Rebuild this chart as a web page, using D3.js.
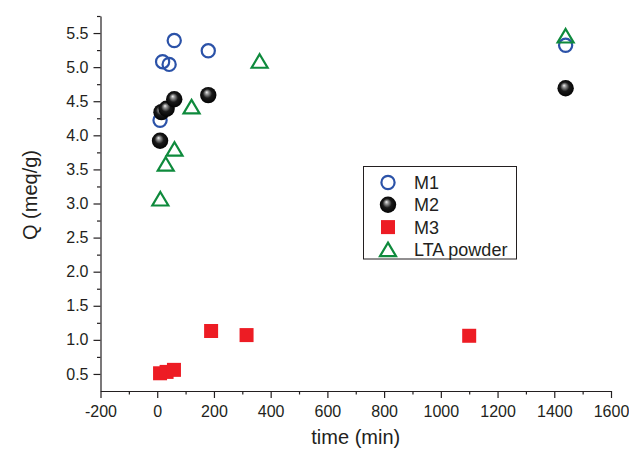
<!DOCTYPE html>
<html>
<head>
<meta charset="utf-8">
<script src="https://cdn.jsdelivr.net/npm/d3@7"></script>
<style>
  html, body { margin: 0; padding: 0; background: #fff; }
  svg { display: block; font-family: "Liberation Sans", Arial, sans-serif; }
</style>
</head>
<body>
<svg id="chart" width="629" height="450"></svg>
<script>
// ---- data ----
const m1Time = [10, 19, 42, 60, 180, 1440];
const m1Q    = [4.22, 5.08, 5.04, 5.39, 5.24, 5.32];

const m2Time = [10, 15, 33, 60, 180, 1440];
const m2Q    = [3.92, 4.34, 4.39, 4.53, 4.59, 4.69];

const m3Time = [10, 33, 59, 190, 315, 1100];
const m3Q    = [0.51, 0.53, 0.56, 1.13, 1.07, 1.06];

const ltaTime = [11, 30, 61, 121, 361, 1440];
const ltaQ    = [3.07, 3.58, 3.80, 4.42, 5.09, 5.46];

const xTicks = [-200, 0, 200, 400, 600, 800, 1000, 1200, 1400, 1600];
const yTicks = [0.5, 1.0, 1.5, 2.0, 2.5, 3.0, 3.5, 4.0, 4.5, 5.0, 5.5];
const seriesNames = ["M1", "M2", "M3", "LTA powder"];

// ---- layout ----
const svg = d3.select("#chart");
const plotL = 100.5, plotR = 611, plotT = 16, plotB = 391;
const x = d3.scaleLinear().domain([-200, 1600]).range([plotL, plotR]);
const y = d3.scaleLinear().domain([0.25, 5.75]).range([plotB, plotT]);

const axisColor = "#231f20";
const blue = "#2B52A8", green = "#0E8A3C", red = "#ED1C24";

// sphere gradient
const defs = svg.append("defs");
const grad = defs.append("radialGradient").attr("id", "sphere")
  .attr("cx", "50%").attr("cy", "50%").attr("r", "55%")
  .attr("fx", "40%").attr("fy", "32%");
grad.append("stop").attr("offset", "0%").attr("stop-color", "#f5f5f5");
grad.append("stop").attr("offset", "18%").attr("stop-color", "#9a9a9a");
grad.append("stop").attr("offset", "50%").attr("stop-color", "#1a1a1a");
grad.append("stop").attr("offset", "100%").attr("stop-color", "#000");

// ---- axes ----
const xMinor = d3.range(-100, 1600, 200);
const yMinor = d3.range(0.75, 5.8, 0.5);
const hyphenInt = d => String(d);

svg.append("g").attr("transform", `translate(0,${plotB})`)
  .call(d3.axisBottom(x).tickValues(xTicks).tickSize(7).tickPadding(8).tickSizeOuter(0)
        .tickFormat(hyphenInt));
svg.append("g").attr("transform", `translate(0,${plotB})`)
  .call(d3.axisBottom(x).tickValues(xMinor).tickSize(3.5).tickFormat("").tickSizeOuter(0))
  .select(".domain").remove();

svg.append("g").attr("transform", `translate(${plotL},0)`)
  .call(d3.axisLeft(y).tickValues(yTicks).tickSize(7).tickPadding(5).tickSizeOuter(0)
        .tickFormat(d => d.toFixed(1)));
svg.append("g").attr("transform", `translate(${plotL},0)`)
  .call(d3.axisLeft(y).tickValues(yMinor).tickSize(3.5).tickFormat("").tickSizeOuter(0))
  .select(".domain").remove();

svg.selectAll(".domain, .tick line").attr("stroke", axisColor).attr("stroke-width", 1.2);
svg.selectAll(".tick text").attr("fill", axisColor).style("font-size", "16px")
  .style("font-family", "'Liberation Sans', Arial, sans-serif");

// axis titles
svg.append("text").attr("x", (plotL + plotR) / 2).attr("y", 444)
  .attr("text-anchor", "middle").attr("fill", axisColor)
  .style("font-size", "20px").text("time (min)");
svg.append("text").attr("transform", "translate(37,195) rotate(-90)")
  .attr("text-anchor", "middle").attr("fill", axisColor)
  .style("font-size", "20px").text("Q (meq/g)");

// ---- markers ----
const triPath = (cx, cy) => {
  const w = 8, h = 13.5;
  return `M${cx},${cy - h / 2}L${cx + w},${cy + h / 2}L${cx - w},${cy + h / 2}Z`;
};
function drawCircle(g, cx, cy) {
  g.append("circle").attr("cx", cx).attr("cy", cy).attr("r", 6.6)
    .attr("fill", "none").attr("stroke", blue).attr("stroke-width", 2.2);
}
function drawSphere(g, cx, cy) {
  g.append("circle").attr("cx", cx).attr("cy", cy).attr("r", 8.2)
    .attr("fill", "url(#sphere)");
}
function drawSquare(g, cx, cy) {
  g.append("rect").attr("x", cx - 7).attr("y", cy - 7).attr("width", 14).attr("height", 14)
    .attr("fill", red);
}
function drawTri(g, cx, cy) {
  g.append("path").attr("d", triPath(cx, cy)).attr("fill", "none")
    .attr("stroke", green).attr("stroke-width", 2.2).attr("stroke-linejoin", "miter");
}

const pts = svg.append("g");
m1Time.forEach((t, i) => drawCircle(pts, x(t), y(m1Q[i])));
m2Time.forEach((t, i) => drawSphere(pts, x(t), y(m2Q[i])));
m3Time.forEach((t, i) => drawSquare(pts, x(t), y(m3Q[i])));
ltaTime.forEach((t, i) => drawTri(pts, x(t), y(ltaQ[i])));

// ---- legend ----
const lg = svg.append("g");
lg.append("rect").attr("x", 363.5).attr("y", 166.5).attr("width", 153).attr("height", 92.5)
  .attr("fill", "#fff").attr("stroke", axisColor).attr("stroke-width", 1);
const drawers = [drawCircle, drawSphere, drawSquare, drawTri];
seriesNames.forEach((name, i) => {
  const cy = 182.5 + i * 22.3;
  drawers[i](lg, 388, cy);
  lg.append("text").attr("x", 414).attr("y", cy + 6.5).attr("fill", axisColor)
    .style("font-size", "18px").text(name);
});
</script>
</body>
</html>
